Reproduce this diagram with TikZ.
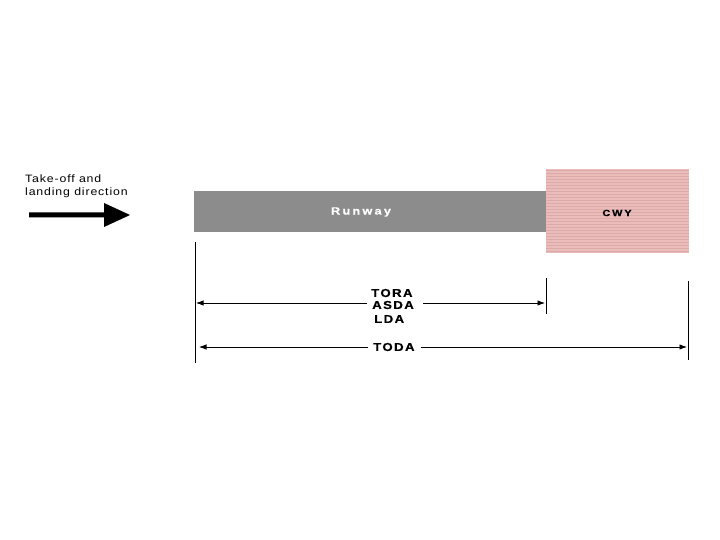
\documentclass[tikz,border=0pt]{standalone}
\usepackage{fontspec}
\setmainfont{Liberation Sans}
\usetikzlibrary{arrows.meta}
\definecolor{rwgray}{HTML}{8C8C8C}
\definecolor{cwypink}{HTML}{EBBCBA}
\definecolor{cwyline}{HTML}{D9ABA9}
\tikzset{
  lbl/.style={inner sep=0pt, font=\bfseries\addfontfeature{FakeStretch=1.15,FakeBold=0.6,LetterSpace=12}\fontsize{11.5}{12}\selectfont},
  dirtext/.style={anchor=west, inner sep=0pt, font=\addfontfeature{FakeStretch=1.15,LetterSpace=8}\fontsize{10.7}{12}\selectfont},
  dim/.style={line width=0.8pt, -{Latex[length=7.5pt,width=5.5pt]}},
  tick/.style={line width=1pt}
}
\begin{document}
\begin{tikzpicture}[x=1pt,y=1pt]
\useasboundingbox (0,0) rectangle (720,-540);
% runway
\fill[rwgray] (194,-191) rectangle (546,-232);
\node[lbl, text=white, font=\bfseries\addfontfeature{FakeStretch=1.2,FakeBold=0.6,LetterSpace=22}\fontsize{10.5}{12}\selectfont] (rw) at (361,-212) {Runway};
% clearway
\fill[cwypink] (546,-169) rectangle (689,-253);
\foreach \y in {170.5,173.5,...,252} {
  \draw[cwyline, line width=0.35pt] (546,-\y) -- (689,-\y);
}
\node[lbl, font=\bfseries\addfontfeature{FakeStretch=1.2,FakeBold=0.6,LetterSpace=22}\fontsize{9}{10}\selectfont] (cwy) at (617,-213) {CWY};
% direction
\node[dirtext] (t1) at (25,-179) {Take-off and};
\node[dirtext] (t2) at (25,-193) {landing direction};
\fill[black] (29,-212.5) -- (104,-212.5) -- (104,-203) -- (130,-215) -- (104,-227) -- (104,-217.5) -- (29,-217.5) -- cycle;
% ticks
\coordinate (a0) at (195,-242); \coordinate (a1) at (195,-363);
\coordinate (b0) at (546,-278); \coordinate (b1) at (546,-314);
\coordinate (c0) at (688,-281); \coordinate (c1) at (688,-360);
\draw[tick] (a0) -- (a1);
\draw[tick] (b0) -- (b1);
\draw[tick] (c0) -- (c1);
% labels
\node[lbl, anchor=west] (tora) at (371,-293) {TORA};
\node[lbl, anchor=west] (asda) at (372,-305) {ASDA};
\node[lbl, anchor=west] (lda) at (374,-319) {LDA};
\node[lbl, anchor=west] (toda) at (373,-347) {TODA};
% dimension arrows
\coordinate (l1) at (196,-303); \coordinate (r1) at (545,-303);
\coordinate (l2) at (199,-347); \coordinate (r2) at (687,-347);
\draw[dim] (367,-303) -- (l1);
\draw[dim] (423,-303) -- (r1);
\draw[dim] ([xshift=-5pt]toda.west) -- (l2);
\draw[dim] ([xshift=6pt]toda.east) -- (r2);
\end{tikzpicture}
\end{document}
